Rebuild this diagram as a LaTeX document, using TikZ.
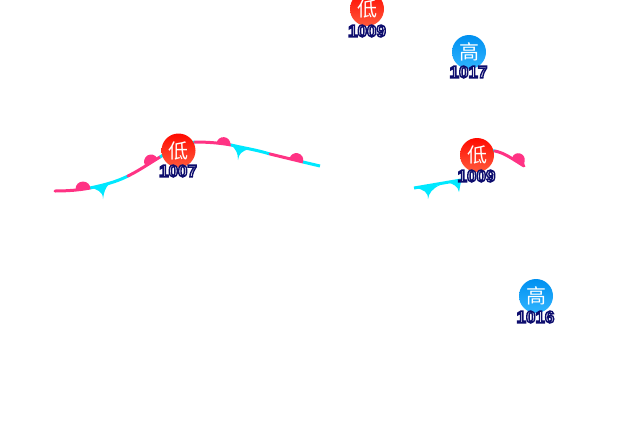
\documentclass[tikz,border=0pt]{standalone}
\usepackage{fontspec}
\setmainfont{Liberation Sans}
\newfontfamily\cjk{Noto Sans CJK SC}
\usetikzlibrary{calc}
\definecolor{frontpink}{HTML}{FF3384}
\definecolor{frontcyan}{HTML}{00E8FF}
\definecolor{lowtop}{HTML}{FF0A00}
\definecolor{lowbot}{HTML}{FF5A3C}
\definecolor{hightop}{HTML}{0090F0}
\definecolor{highbot}{HTML}{30B4FF}
\newcommand{\outlined}[1]{\special{pdf:code q 2 Tr 1.4 w 0.05 0.05 0.43 RG 1 1 1 rg}#1\special{pdf:code Q}}
\tikzset{
  x=1pt,y=-1pt,
  warmseg/.style={draw=frontpink,line width=3pt,line cap=round},
  coldseg/.style={draw=frontcyan,line width=3pt},
  lowdisc/.style={circle,minimum size=34pt,inner sep=0pt,top color=lowtop,bottom color=lowbot,text=white,font=\cjk\fontsize{20}{20}\selectfont},
  highdisc/.style={circle,minimum size=34pt,inner sep=0pt,top color=hightop,bottom color=highbot,text=white,font=\cjk\fontsize{20}{20}\selectfont},
  presslabel/.style={inner sep=0pt,font=\bfseries\fontsize{17}{17}\selectfont}
}
\begin{document}
\begin{tikzpicture}
\useasboundingbox (0,0) rectangle (640,440);
% left front
\draw[warmseg] (55,191) .. controls (68,191) and (80,190) .. (90,188);
\draw[coldseg] (90,188) .. controls (104,185) and (116,182) .. (128,176);
\draw[warmseg] (128,176) .. controls (140,170) and (150,163) .. (160,157);
\draw[coldseg] (160,157) .. controls (170,151) and (180,144) .. (195,142);
\draw[warmseg] (195,142) .. controls (208,142) and (220,143) .. (231,145);
\draw[coldseg] (231,145) .. controls (244,148) and (257,150) .. (270,154);
\draw[warmseg] (270,154) -- (303,162);
\draw[coldseg] (303,162) -- (320,166);
\fill[frontpink] (75.5,189) arc (180:360:7.5) -- cycle;
\fill[frontpink] (145,165) arc (150:330:7) -- cycle;
\fill[frontpink] (216.5,143.5) arc (185:365:7) -- cycle;
\fill[frontpink] (289.5,158.5) arc (193:373:7) -- cycle;
\fill[frontcyan] (90,187) .. controls (97,190) and (103,191) .. (103,199) .. controls (104,192) and (105,188) .. (110,183) -- cycle;
\fill[frontcyan] (230,144) .. controls (236,149) and (238,153) .. (238,160) .. controls (239,154) and (241,151) .. (250,149) -- cycle;
% right front
\draw[coldseg] (414,188) -- (461,180);
\fill[frontcyan] (416,188) .. controls (424,190) and (428,192) .. (428,199) .. controls (429,193) and (432,189) .. (440,185) -- cycle;
\fill[frontcyan] (447,182) .. controls (453,184) and (458,186) .. (459,192) .. controls (460,188) and (460,184) .. (462,179) -- cycle;
\draw[coldseg] (490,150.5) -- (495,151);
\draw[warmseg] (495,151) .. controls (505,153) and (514,160) .. (524,166);
\fill[frontpink] (512,158) arc (195:375:6.5) -- (524,166) -- cycle;
% centres
\node[lowdisc] (lowa) at (178.5,150.5) {低};
\node[lowdisc] (lowb) at (367,9) {低};
\node[highdisc] (higha) at (469,52) {高};
\node[lowdisc] (lowc) at (477,155) {低};
\node[highdisc] (highb) at (536,296) {高};
\node[presslabel] (pa) at (178,171) {\outlined{1007}};
\node[presslabel] (pb) at (367,31) {\outlined{1009}};
\node[presslabel] (pc) at (468.5,72) {\outlined{1017}};
\node[presslabel] (pd) at (476.5,176) {\outlined{1009}};
\node[presslabel] (pe) at (535.5,317) {\outlined{1016}};
\end{tikzpicture}
\end{document}
